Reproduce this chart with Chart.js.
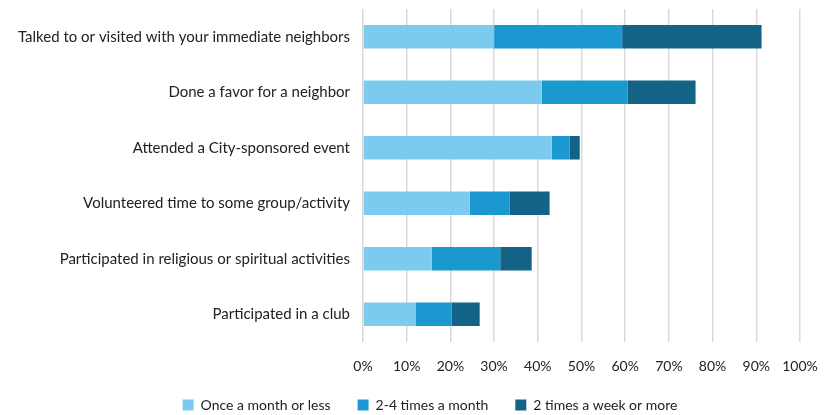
<!DOCTYPE html>
<html>
<head>
<title>Neighborhood activities</title>
<script src="https://cdn.jsdelivr.net/npm/chart.js"></script>
<style>
  body { margin: 0; background: #fff; }
  #wrap { width: 830px; height: 415px; }
</style>
</head>
<body>
<div id="wrap"><canvas id="activityChart" width="830" height="415"></canvas></div>

<script>
    const activities = [
        'Talked to or visited with your immediate neighbors',
        'Done a favor for a neighbor',
        'Attended a City-sponsored event',
        'Volunteered time to some group/activity',
        'Participated in religious or spiritual activities',
        'Participated in a club'
    ];
    const onceMonth = [30.0, 40.9, 43.2, 24.4, 15.7, 12.0];
    const twoFourMonth = [29.3, 19.7, 4.1, 9.2, 15.7, 8.3];
    const twiceWeek = [31.9, 15.5, 2.3, 9.1, 7.2, 6.4];
    const xTicks = [0, 10, 20, 30, 40, 50, 60, 70, 80, 90, 100];

    Chart.defaults.font.family = "Lato, 'DejaVu Sans', sans-serif";
    Chart.defaults.font.size = 14;
    Chart.defaults.color = '#222';

    // legend: fixed height, centred under the whole figure like the original
    const legendPad = 27;
    const placeLegend = {
        id: 'placeLegend',
        afterInit(chart) {
            const lg = chart.legend;
            const fit = lg.fit.bind(lg);
            lg.fit = function () { fit(); this.height = 34; };
        },
        afterLayout(chart) {
            const lg = chart.legend;
            lg.left += 30; lg.right += 30;
            lg.top = 405 - legendPad - 7;
            lg.bottom = chart.height;
            lg.height = lg.bottom - lg.top;
        }
    };

    const noEdgePad = s => { s.paddingTop = 0; s.paddingBottom = 0; s.paddingLeft = 0; s.paddingRight = 0; };

    const ctx = document.getElementById('activityChart');
    const chart = new Chart(ctx, {
        type: 'bar',
        data: {
            labels: activities,
            datasets: [
                { label: 'Once a month or less', data: onceMonth, backgroundColor: '#7ccbef' },
                { label: '2-4 times a month', data: twoFourMonth, backgroundColor: '#1b98cf' },
                { label: '2 times a week or more', data: twiceWeek, backgroundColor: '#136387' }
            ]
        },
        options: {
            indexAxis: 'y',
            responsive: false,
            animation: false,
            layout: { padding: { left: 0, right: 30, top: 9, bottom: 0 } },
            datasets: { bar: { categoryPercentage: 0.8, barPercentage: 0.53 } },
            scales: {
                x: {
                    stacked: true,
                    min: 0, max: 100,
                    afterBuildTicks: s => { s.ticks = xTicks.map(v => ({ value: v })); },
                    afterFit: s => { s.height = 39; noEdgePad(s); },
                    grid: { color: '#d9d9d9', lineWidth: 1.5, drawTicks: false },
                    border: { display: false },
                    ticks: { callback: v => v + '%', padding: 16, maxRotation: 0 }
                },
                y: {
                    stacked: true,
                    afterFit: s => { s.width = 363; noEdgePad(s); },
                    grid: { display: false, drawTicks: false },
                    border: { display: false },
                    ticks: { padding: 13, font: { size: 15 } }
                }
            },
            plugins: {
                legend: {
                    position: 'bottom',
                    labels: { boxWidth: 11, boxHeight: 11, padding: legendPad, color: '#222' }
                },
                tooltip: { enabled: false }
            }
        },
        plugins: [placeLegend]
    });
</script>
</body>
</html>
